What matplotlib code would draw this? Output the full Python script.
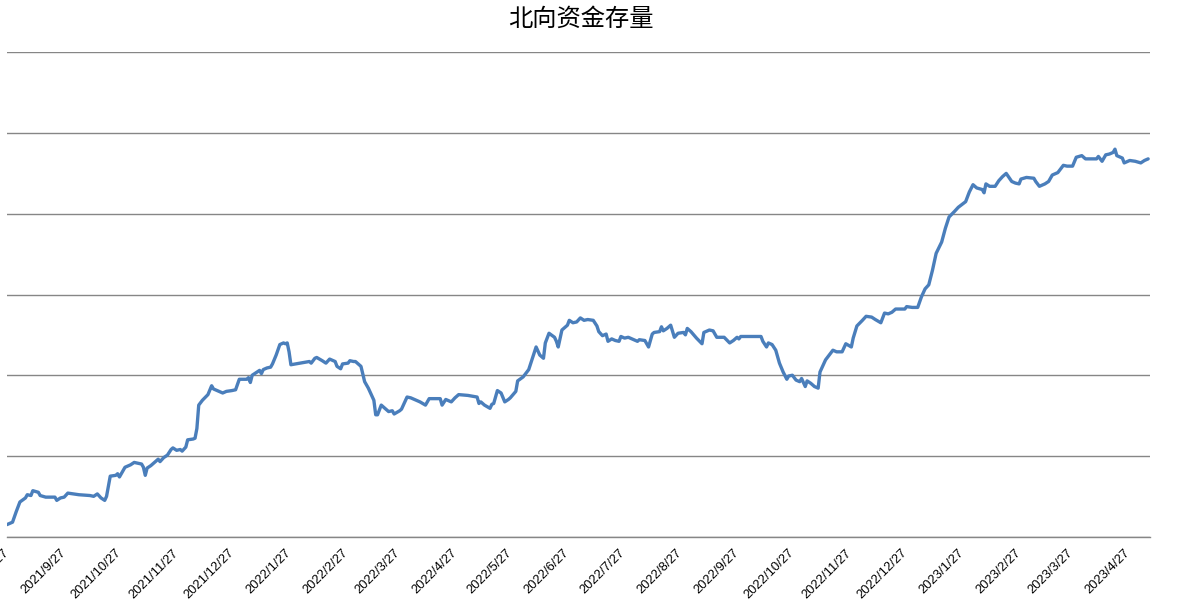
import matplotlib
matplotlib.use("Agg")
import matplotlib.pyplot as plt
import pandas as pd

dates = [
    "2021-08-27", "2021-08-30", "2021-09-01", "2021-09-03", "2021-09-06", "2021-09-07", "2021-09-09", "2021-09-10",
    "2021-09-13", "2021-09-14", "2021-09-17", "2021-09-22", "2021-09-23", "2021-09-25", "2021-09-27", "2021-09-29",
    "2021-10-05", "2021-10-11", "2021-10-13", "2021-10-15", "2021-10-17", "2021-10-19", "2021-10-20", "2021-10-22",
    "2021-10-25", "2021-10-26", "2021-10-27", "2021-10-30", "2021-10-31", "2021-11-02", "2021-11-04", "2021-11-06",
    "2021-11-08", "2021-11-09", "2021-11-10", "2021-11-11", "2021-11-13", "2021-11-16", "2021-11-17", "2021-11-18",
    "2021-11-20", "2021-11-22", "2021-11-24", "2021-11-25", "2021-11-27", "2021-11-29", "2021-11-30", "2021-12-02",
    "2021-12-03", "2021-12-06", "2021-12-07", "2021-12-08", "2021-12-09", "2021-12-11", "2021-12-14", "2021-12-16",
    "2021-12-17", "2021-12-22", "2021-12-24", "2021-12-27", "2021-12-29", "2021-12-31",
    "2022-01-04", "2022-01-05", "2022-01-06", "2022-01-07", "2022-01-09", "2022-01-11", "2022-01-12", "2022-01-13",
    "2022-01-15", "2022-01-17", "2022-01-18", "2022-01-20", "2022-01-22", "2022-01-24", "2022-01-25", "2022-01-26",
    "2022-01-27", "2022-01-28", "2022-02-07", "2022-02-08", "2022-02-10", "2022-02-11", "2022-02-14", "2022-02-16",
    "2022-02-18", "2022-02-21", "2022-02-22", "2022-02-24", "2022-02-25", "2022-02-28", "2022-03-01", "2022-03-03",
    "2022-03-04", "2022-03-07", "2022-03-09", "2022-03-11", "2022-03-14", "2022-03-15", "2022-03-16", "2022-03-18",
    "2022-03-21", "2022-03-22", "2022-03-24", "2022-03-25", "2022-03-28", "2022-03-29", "2022-04-01", "2022-04-03",
    "2022-04-06", "2022-04-08", "2022-04-11", "2022-04-13", "2022-04-19", "2022-04-20", "2022-04-22", "2022-04-25",
    "2022-04-27", "2022-04-29", "2022-05-04", "2022-05-09", "2022-05-10", "2022-05-11", "2022-05-13", "2022-05-16",
    "2022-05-17", "2022-05-18", "2022-05-20", "2022-05-22", "2022-05-24", "2022-05-26", "2022-05-27", "2022-05-30",
    "2022-05-31", "2022-06-03", "2022-06-06", "2022-06-08", "2022-06-10", "2022-06-12", "2022-06-14", "2022-06-15",
    "2022-06-17", "2022-06-20", "2022-06-21", "2022-06-22", "2022-06-24", "2022-06-27", "2022-06-28", "2022-06-30",
    "2022-07-02", "2022-07-04", "2022-07-06", "2022-07-08", "2022-07-11", "2022-07-13", "2022-07-14", "2022-07-16",
    "2022-07-18", "2022-07-19", "2022-07-21", "2022-07-23", "2022-07-25", "2022-07-26", "2022-07-28", "2022-07-30",
    "2022-08-01", "2022-08-04", "2022-08-05", "2022-08-08", "2022-08-10", "2022-08-12", "2022-08-13", "2022-08-16",
    "2022-08-17", "2022-08-18", "2022-08-20", "2022-08-22", "2022-08-24", "2022-08-26", "2022-08-29", "2022-08-30",
    "2022-08-31", "2022-09-02", "2022-09-05", "2022-09-08", "2022-09-09", "2022-09-12", "2022-09-14", "2022-09-16",
    "2022-09-20", "2022-09-23", "2022-09-25", "2022-09-27", "2022-09-28", "2022-09-29", "2022-10-10", "2022-10-11",
    "2022-10-13", "2022-10-14", "2022-10-16", "2022-10-18", "2022-10-20", "2022-10-22", "2022-10-24", "2022-10-25",
    "2022-10-27", "2022-10-29", "2022-10-31", "2022-11-01", "2022-11-03", "2022-11-04", "2022-11-06", "2022-11-08",
    "2022-11-10", "2022-11-11", "2022-11-14", "2022-11-16", "2022-11-18", "2022-11-20", "2022-11-23", "2022-11-25",
    "2022-11-28", "2022-11-29", "2022-12-01", "2022-12-04", "2022-12-06", "2022-12-09", "2022-12-11", "2022-12-14",
    "2022-12-16", "2022-12-18", "2022-12-20", "2022-12-22", "2022-12-27", "2022-12-28", "2022-12-31",
    "2023-01-03", "2023-01-05", "2023-01-07", "2023-01-09", "2023-01-11", "2023-01-13", "2023-01-16", "2023-01-18",
    "2023-01-20", "2023-01-23", "2023-01-25", "2023-01-29", "2023-01-31", "2023-02-02", "2023-02-04", "2023-02-07",
    "2023-02-08", "2023-02-09", "2023-02-11", "2023-02-14", "2023-02-16", "2023-02-18", "2023-02-20", "2023-02-23",
    "2023-02-25", "2023-02-27", "2023-02-28", "2023-03-03", "2023-03-07", "2023-03-08", "2023-03-10", "2023-03-13",
    "2023-03-15", "2023-03-17", "2023-03-20", "2023-03-21", "2023-03-23", "2023-03-25", "2023-03-28", "2023-03-30",
    "2023-04-02", "2023-04-04", "2023-04-07", "2023-04-10", "2023-04-11", "2023-04-13", "2023-04-15", "2023-04-17",
    "2023-04-19", "2023-04-20", "2023-04-21", "2023-04-24", "2023-04-25", "2023-04-28", "2023-05-01", "2023-05-04",
    "2023-05-06", "2023-05-08",
]

values = [
    14150, 14180, 14310, 14430, 14480, 14520, 14510, 14570,
    14550, 14510, 14490, 14490, 14450, 14480, 14490, 14540,
    14520, 14510, 14500, 14530, 14480, 14450, 14500, 14750,
    14760, 14780, 14740, 14860, 14870, 14890, 14920, 14910,
    14900, 14860, 14760, 14850, 14880, 14940, 14960, 14930,
    14980, 15010, 15080, 15100, 15070, 15080, 15060, 15110,
    15200, 15210, 15220, 15340, 15630, 15690, 15760, 15870,
    15830, 15780, 15800, 15810, 15820, 15950,
    15950, 15970, 15910, 16000, 16030, 16060, 16020, 16070,
    16090, 16100, 16140, 16250, 16380, 16400, 16390, 16400,
    16290, 16130, 16170, 16150, 16210, 16220, 16180, 16150,
    16200, 16170, 16110, 16080, 16140, 16150, 16180, 16170,
    16170, 16110, 15920, 15840, 15690, 15510, 15510, 15630,
    15570, 15550, 15560, 15520, 15560, 15580, 15730, 15720,
    15690, 15670, 15630, 15710, 15710, 15630, 15700, 15670,
    15720, 15760, 15750, 15730, 15650, 15670, 15630, 15590,
    15640, 15650, 15810, 15780, 15670, 15700, 15720, 15800,
    15930, 15980, 16070, 16210, 16350, 16250, 16210, 16400,
    16520, 16470, 16420, 16350, 16560, 16620, 16680, 16650,
    16660, 16710, 16680, 16690, 16680, 16610, 16540, 16490,
    16510, 16420, 16450, 16430, 16420, 16480, 16460, 16470,
    16450, 16420, 16440, 16430, 16350, 16510, 16530, 16540,
    16600, 16550, 16580, 16620, 16470, 16520, 16530, 16500,
    16580, 16540, 16460, 16390, 16530, 16560, 16550, 16470,
    16470, 16400, 16430, 16470, 16450, 16480, 16480, 16420,
    16350, 16400, 16380, 16310, 16150, 16040, 15950, 15990,
    16000, 15940, 15920, 15960, 15860, 15930, 15900, 15860,
    15840, 16040, 16190, 16250, 16310, 16290, 16290, 16390,
    16350, 16460, 16610, 16680, 16730, 16720, 16690, 16650,
    16770, 16760, 16780, 16820, 16820, 16850, 16840,
    16840, 16970, 17070, 17120, 17300, 17510, 17650, 17820,
    17960, 18030, 18080, 18150, 18270, 18360, 18320, 18300,
    18260, 18370, 18340, 18340, 18410, 18460, 18500, 18400,
    18380, 18370, 18430, 18450, 18440, 18400, 18340, 18370,
    18400, 18480, 18510, 18540, 18600, 18590, 18590, 18700,
    18720, 18680, 18680, 18680, 18710, 18650, 18730, 18740,
    18760, 18800, 18720, 18690, 18630, 18660, 18650, 18630,
    18660, 18680,
]

tick_dates = [
    "2021-08-27", "2021-09-27", "2021-10-27", "2021-11-27", "2021-12-27",
    "2022-01-27", "2022-02-27", "2022-03-27", "2022-04-27", "2022-05-27",
    "2022-06-27", "2022-07-27", "2022-08-27", "2022-09-27", "2022-10-27",
    "2022-11-27", "2022-12-27", "2023-01-27", "2023-02-27", "2023-03-27",
    "2023-04-27",
]
tick_labels = [
    "2021/8/27", "2021/9/27", "2021/10/27", "2021/11/27", "2021/12/27",
    "2022/1/27", "2022/2/27", "2022/3/27", "2022/4/27", "2022/5/27",
    "2022/6/27", "2022/7/27", "2022/8/27", "2022/9/27", "2022/10/27",
    "2022/11/27", "2022/12/27", "2023/1/27", "2023/2/27", "2023/3/27",
    "2023/4/27",
]
y_ticks = [14000, 15000, 16000, 17000, 18000, 19000, 20000]
title = "北向资金存量"

x = pd.to_datetime(dates)
xt = pd.to_datetime(tick_dates)

fig = plt.figure(figsize=(11.77, 6.04), dpi=100)
ax = fig.add_axes([7 / 1177, 1 - 536.7 / 604, (1150 - 7) / 1177, (536.7 - 52.3) / 604])

ax.plot(x, values, color="#4A7EBB", linewidth=2.4, solid_joinstyle="round", solid_capstyle="round", zorder=3)

ax.set_xlim(pd.Timestamp("2021-08-27"), pd.Timestamp("2023-05-09"))
ax.set_ylim(y_ticks[0], y_ticks[-1])
ax.set_yticks(y_ticks)
ax.yaxis.grid(True, color="#868686", linewidth=1.0)
ax.set_axisbelow(True)
ax.tick_params(axis="y", left=False, labelleft=False)

ax.set_xticks(xt)
ax.set_xticklabels(tick_labels, rotation=45, ha="right", va="center", rotation_mode="anchor",
                   fontsize=9.3, family="Liberation Sans", color="#000000")
ax.tick_params(axis="x", length=0, pad=10.5)

for s in ["left", "right", "top"]:
    ax.spines[s].set_visible(False)
ax.spines["bottom"].set_color("#868686")
ax.spines["bottom"].set_linewidth(1.0)

fig.text(581 / 1177, 1 - 19 / 604, title, ha="center", va="center", fontsize=17.5,
         family=["Noto Sans CJK SC", "DejaVu Sans"], color="#000000")

fig.savefig("out.png", dpi=100, facecolor="white")
